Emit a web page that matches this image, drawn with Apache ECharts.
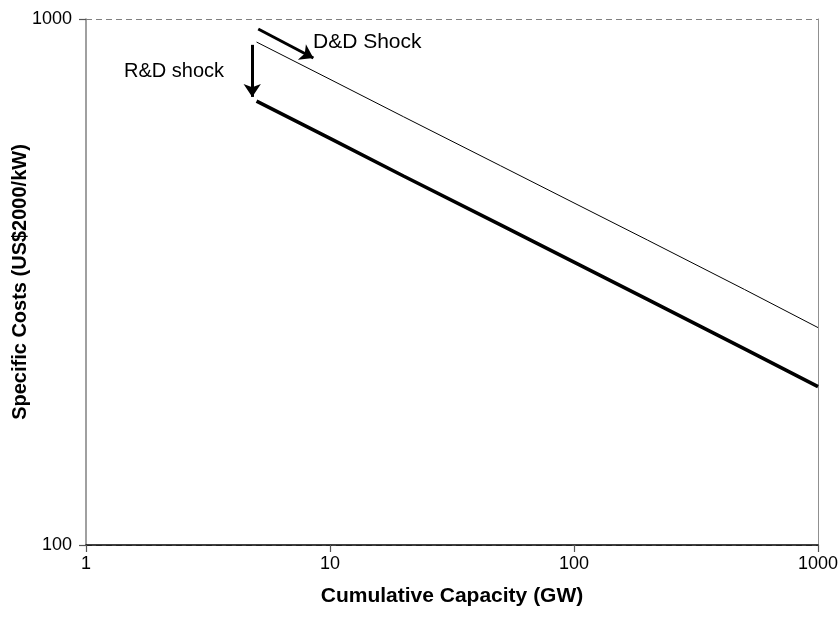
<!DOCTYPE html>
<html>
<head>
<meta charset="utf-8">
<script src="https://cdn.jsdelivr.net/npm/echarts@6/dist/echarts.min.js"></script>
<style>html,body{margin:0;padding:0;background:#fff;}#c{width:838px;height:617px;}</style>
</head>
<body>
<div id="c"></div>
<script>
// Data (log-log experience curves)
const capacity = [5, 10, 20, 50, 100, 200, 500, 1000];
const costsBefore = [904, 768, 652, 526, 447, 380, 306, 259];   // thin line
const costsAfter  = [698, 593, 503, 406, 345, 293, 236, 200];   // thick line (after R&D shock)
const xTicks = [1, 10, 100, 1000];
const yTicks = [100, 1000];
// Annotation arrows in data coordinates
const ddArrow = [[5.08, 957], [8.55, 843]];
const rdArrow = [[4.80, 893], [4.80, 711]];

const chart = echarts.init(document.getElementById('c'));
const font = 'Liberation Sans, Arial, sans-serif';
chart.setOption({
  animation: false,
  grid: { left: 86, right: 20, top: 19, bottom: 72, outerBoundsMode: 'none', containLabel: false },
  xAxis: {
    type: 'log', logBase: 10, min: xTicks[0], max: xTicks[xTicks.length - 1],
    name: 'Cumulative Capacity (GW)', nameLocation: 'middle', nameGap: 41, nameMoveOverlap: false,
    nameTextStyle: { fontFamily: font, fontWeight: 'bold', fontSize: 21, color: '#000' },
    axisLine: { show: true, lineStyle: { color: '#000', width: 1.5 } },
    axisTick: { show: true, inside: false, length: 7, lineStyle: { color: '#555', width: 1.2 } },
    minorTick: { show: false },
    splitLine: { show: false },
    axisLabel: { fontFamily: font, fontSize: 18, color: '#000', margin: 10, formatter: v => String(v) }
  },
  yAxis: [{
    type: 'log', logBase: 10, min: yTicks[0], max: yTicks[yTicks.length - 1],
    name: 'Specific Costs (US$2000/kW)', nameLocation: 'middle', nameGap: 56, nameMoveOverlap: false,
    nameTextStyle: { fontFamily: font, fontWeight: 'bold', fontSize: 20, color: '#000' },
    axisLine: { show: true, lineStyle: { color: '#808080', width: 1.5 } },
    axisTick: { show: true, inside: false, length: 7, lineStyle: { color: '#555', width: 1.2 } },
    minorTick: { show: false },
    splitLine: { show: true, lineStyle: { color: '#808080', type: [6, 4], width: 1 } },
    axisLabel: { fontFamily: font, fontSize: 18, color: '#000', margin: 14, formatter: v => String(v) }
  }, {
    type: 'log', logBase: 10, min: yTicks[0], max: yTicks[yTicks.length - 1],
    position: 'right',
    axisLine: { show: true, lineStyle: { color: '#909090', width: 1 } },
    axisTick: { show: false }, axisLabel: { show: false }, splitLine: { show: false }
  }],
  series: [{
    type: 'line', yAxisIndex: 0, showSymbol: false, symbol: 'none',
    data: capacity.map((c, i) => [c, costsBefore[i]]),
    lineStyle: { color: '#000', width: 1 },
    markLine: {
      silent: true, symbol: ['none', 'arrow'], symbolSize: 13,
      label: { show: false },
      lineStyle: { color: '#000', width: 3, type: 'solid' },
      data: [
        [{ coord: ddArrow[0] }, { coord: ddArrow[1] }],
        [{ coord: rdArrow[0] }, { coord: rdArrow[1] }]
      ]
    }
  }, {
    type: 'line', yAxisIndex: 0, showSymbol: false, symbol: 'none',
    data: capacity.map((c, i) => [c, costsAfter[i]]),
    lineStyle: { color: '#000', width: 3.5 }
  }],
  graphic: [
    { type: 'text', left: 313, top: 32, style: { text: 'D&D Shock', fontFamily: font, fontSize: 21, fill: '#000' } },
    { type: 'text', left: 124, top: 61, style: { text: 'R&D shock', fontFamily: font, fontSize: 20, fill: '#000' } }
  ]
});
</script>
</body>
</html>
